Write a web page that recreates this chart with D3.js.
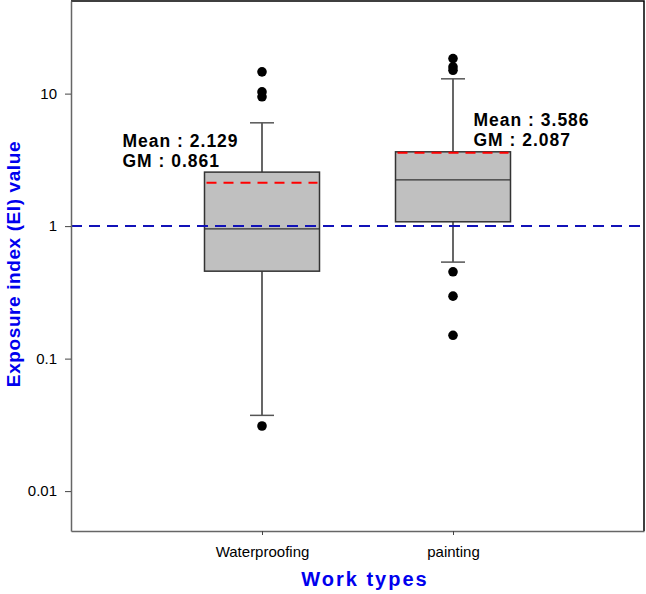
<!DOCTYPE html>
<html>
<head>
<meta charset="utf-8">
<script src="https://cdn.jsdelivr.net/npm/d3@7"></script>
<style>
  body { margin: 0; background: #fff; }
  text { font-family: Arial, "Liberation Sans", sans-serif; }
</style>
</head>
<body>
<svg id="plot"></svg>
<script>
// Data
var categories = ['Waterproofing', 'painting'];
var whiskerLow = [0.0373, 0.535];
var q1 = [0.457, 1.078];
var median = [0.954, 2.236];
var q3 = [2.556, 3.637];
var whiskerHigh = [6.02, 12.93];
var means = [2.129, 3.586];
var gms = [0.861, 2.087];
var outliers = [
  [14.6, 10.3, 9.46, 0.031],
  [18.4, 15.9, 15.0, 0.452, 0.296, 0.150]
];
var yTicks = [0.01, 0.1, 1, 10];
var refLine = 1;

var boxData = categories.map(function(c, i) {
  return {
    name: c, lo: whiskerLow[i], q1: q1[i], med: median[i], q3: q3[i],
    hi: whiskerHigh[i], mean: means[i], gm: gms[i], out: outliers[i]
  };
});

var width = 646, height = 594;
var margin = {top: 1, right: 2, bottom: 63, left: 71};

var svg = d3.select('#plot')
  .attr('width', width)
  .attr('height', height);

// Scales
var xScale = d3.scalePoint()
  .domain(categories)
  .range([margin.left, width - margin.right])
  .padding(1);

var yScale = d3.scaleLog()
  .domain([0.005, 50])
  .range([height - margin.bottom, margin.top]);

var boxW = 115, capW = 24;

// Frame (top and right)
svg.append('path')
  .attr('d', 'M' + margin.left + ',' + margin.top + 'H' + (width - margin.right) + 'V' + (height - margin.bottom))
  .attr('fill', 'none')
  .attr('stroke', '#000')
  .attr('stroke-width', 1.5);

var g = svg.selectAll('.box')
  .data(boxData)
  .enter().append('g')
  .attr('class', 'box');

// Whiskers
g.append('line')
  .attr('x1', d => xScale(d.name)).attr('x2', d => xScale(d.name))
  .attr('y1', d => yScale(d.q3)).attr('y2', d => yScale(d.hi))
  .attr('stroke', '#000').attr('stroke-width', 1.2);
g.append('line')
  .attr('x1', d => xScale(d.name)).attr('x2', d => xScale(d.name))
  .attr('y1', d => yScale(d.q1)).attr('y2', d => yScale(d.lo))
  .attr('stroke', '#000').attr('stroke-width', 1.2);

// Caps
['hi', 'lo'].forEach(function(k) {
  g.append('line')
    .attr('x1', d => xScale(d.name) - capW / 2).attr('x2', d => xScale(d.name) + capW / 2)
    .attr('y1', d => yScale(d[k])).attr('y2', d => yScale(d[k]))
    .attr('stroke', '#555').attr('stroke-width', 1.5);
});

// Boxes
g.append('rect')
  .attr('x', d => xScale(d.name) - boxW / 2)
  .attr('y', d => yScale(d.q3))
  .attr('width', boxW)
  .attr('height', d => yScale(d.q1) - yScale(d.q3))
  .attr('fill', '#c0c0c0')
  .attr('stroke', '#333')
  .attr('stroke-width', 1.5);

// Median
g.append('line')
  .attr('x1', d => xScale(d.name) - boxW / 2).attr('x2', d => xScale(d.name) + boxW / 2)
  .attr('y1', d => yScale(d.med)).attr('y2', d => yScale(d.med))
  .attr('stroke', '#333').attr('stroke-width', 1.3);

// Mean (red dashed)
g.append('line')
  .attr('x1', d => xScale(d.name) - boxW / 2 + 2).attr('x2', d => xScale(d.name) + boxW / 2 - 2)
  .attr('y1', d => yScale(d.mean)).attr('y2', d => yScale(d.mean))
  .attr('stroke', '#ff0000').attr('stroke-width', 2)
  .attr('stroke-dasharray', '10,7');

// Reference line at EI = 1 (over the boxes)
svg.append('line')
  .attr('x1', margin.left)
  .attr('x2', width - margin.right)
  .attr('y1', yScale(refLine))
  .attr('y2', yScale(refLine))
  .attr('stroke', '#1212b8')
  .attr('stroke-width', 2)
  .attr('stroke-dasharray', '11,7');

// Outliers
g.selectAll('circle')
  .data(d => d.out.map(v => ({name: d.name, v: v})))
  .enter().append('circle')
  .attr('cx', d => xScale(d.name))
  .attr('cy', d => yScale(d.v))
  .attr('r', 4.8)
  .attr('fill', '#000');

// Mean / GM annotations
var labelPos = [{dx: -139.5, dy: -25}, {dx: 20.5, dy: -25.5}];
g.append('text')
  .attr('x', (d, i) => xScale(d.name) + labelPos[i].dx)
  .attr('y', (d, i) => yScale(d.q3) + labelPos[i].dy)
  .style('font-size', '17.5px').style('font-weight', 'bold').style('letter-spacing', '1px')
  .text(d => 'Mean : ' + d3.format('.3f')(d.mean));
g.append('text')
  .attr('x', (d, i) => xScale(d.name) + labelPos[i].dx)
  .attr('y', (d, i) => yScale(d.q3) + labelPos[i].dy + 20)
  .style('font-size', '17.5px').style('font-weight', 'bold').style('letter-spacing', '1px')
  .text(d => 'GM : ' + d3.format('.3f')(d.gm));

// X axis
var xAxis = svg.append('g')
  .attr('transform', 'translate(0,' + (height - margin.bottom) + ')')
  .call(d3.axisBottom(xScale).tickSize(4).tickSizeOuter(0).tickPadding(11));
xAxis.select('.domain').attr('stroke', '#666').attr('stroke-width', 1.5);
xAxis.selectAll('line').attr('stroke', '#444');
xAxis.selectAll('text').style('font-size', '15px').attr('fill', '#000')
  .style('font-family', 'Arial, "Liberation Sans", sans-serif');

// Y axis
var yAxis = svg.append('g')
  .attr('transform', 'translate(' + margin.left + ',0)')
  .call(d3.axisLeft(yScale).tickValues(yTicks).tickFormat(d3.format('~g')).tickSize(6).tickSizeOuter(0).tickPadding(8));
yAxis.select('.domain').attr('stroke', '#666').attr('stroke-width', 1.5);
yAxis.selectAll('line').attr('stroke', '#444');
yAxis.selectAll('text').style('font-size', '15px').attr('fill', '#000')
  .style('font-family', 'Arial, "Liberation Sans", sans-serif');

// Axis titles
svg.append('text')
  .attr('x', 365)
  .attr('y', 586)
  .attr('text-anchor', 'middle')
  .attr('fill', '#0000ee')
  .style('font-size', '20px').style('font-weight', 'bold').style('letter-spacing', '2px')
  .text('Work types');

svg.append('text')
  .attr('transform', 'translate(20,264) rotate(-90)')
  .attr('text-anchor', 'middle')
  .attr('fill', '#0000ee')
  .style('font-size', '19px').style('font-weight', 'bold').style('letter-spacing', '0.6px')
  .text('Exposure index (EI) value');
</script>
</body>
</html>
